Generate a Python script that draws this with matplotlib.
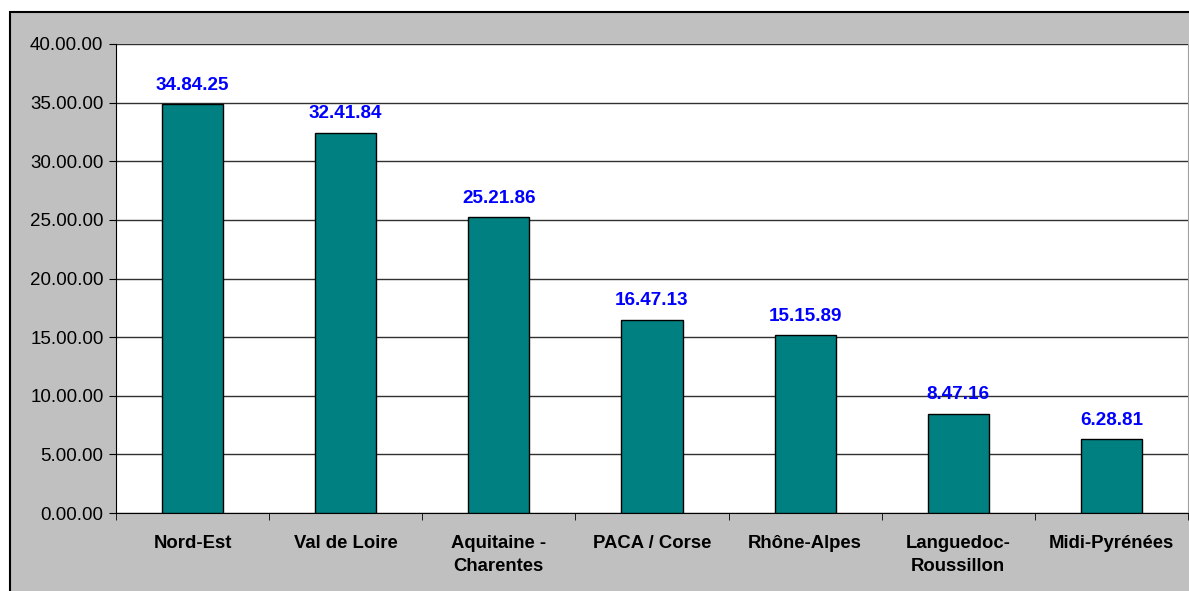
import numpy as np
import matplotlib
matplotlib.use("Agg")
import matplotlib.pyplot as plt
from matplotlib.patches import Rectangle

# --- data ---
regions = ["Nord-Est", "Val de Loire", "Aquitaine -\nCharentes", "PACA / Corse",
           "Rhône-Alpes", "Languedoc-\nRoussillon", "Midi-Pyrénées"]
values = [34.8425, 32.4184, 25.2186, 16.4713, 15.1589, 8.4716, 6.2881]
yticks = [0, 5, 10, 15, 20, 25, 30, 35, 40]


def odd_fmt(v):
    # 34.8425 -> "34.84.25"
    s = f"{v:.4f}"
    return s[:-2] + "." + s[-2:]


plt.rcParams['font.family'] = ['Liberation Sans', 'DejaVu Sans']

W, H = 1189, 591
fig = plt.figure(figsize=(W / 100, H / 100), dpi=100)
fig.patch.set_facecolor("white")

# grey chart frame with a black border (behind the axes)
frame = Rectangle((10 / W, -0.01), 1.01 - 10 / W, 1.01 - 12 / H, transform=fig.transFigure,
                  facecolor="#c0c0c0", edgecolor="black", linewidth=1.5, zorder=-10)
fig.add_artist(frame)

ax = fig.add_axes([116 / W, (H - 513) / H, (1188 - 116) / W, (513 - 44) / H])
ax.set_zorder(1)
ax.set_facecolor("white")

x = np.arange(len(regions))
bars = ax.bar(x, values, width=0.4, color="#008080", edgecolor="black", linewidth=1, zorder=3)

for xi, v in zip(x, values):
    ax.text(xi, v + 0.9, odd_fmt(v), ha="center", va="bottom", color="#0000ff",
            fontsize=13.6, fontweight="bold")

ax.set_xlim(-0.5, len(regions) - 0.5)
ax.set_ylim(0, 40)
ax.set_yticks(yticks)
ax.set_yticklabels([f"{t}.00.00" for t in yticks], fontsize=13.5)
ax.yaxis.grid(True, color="#303030", linewidth=1)
ax.set_axisbelow(True)

ax.set_xticks(x)
ax.set_xticklabels(regions, fontsize=13.3, fontweight="bold", linespacing=1.45)
ax.tick_params(axis="x", which="major", length=0, pad=16)
ax.set_xticks(np.arange(-0.5, len(regions), 1), minor=True)
ax.tick_params(axis="x", which="minor", length=5, direction="out")
ax.tick_params(axis="y", length=5, direction="out", pad=4)

for s in ["left", "bottom"]:
    ax.spines[s].set_color("black")
ax.spines["top"].set_visible(False)
ax.spines["right"].set_color("#a0a0a0")

fig.savefig("out.png", dpi=100)
